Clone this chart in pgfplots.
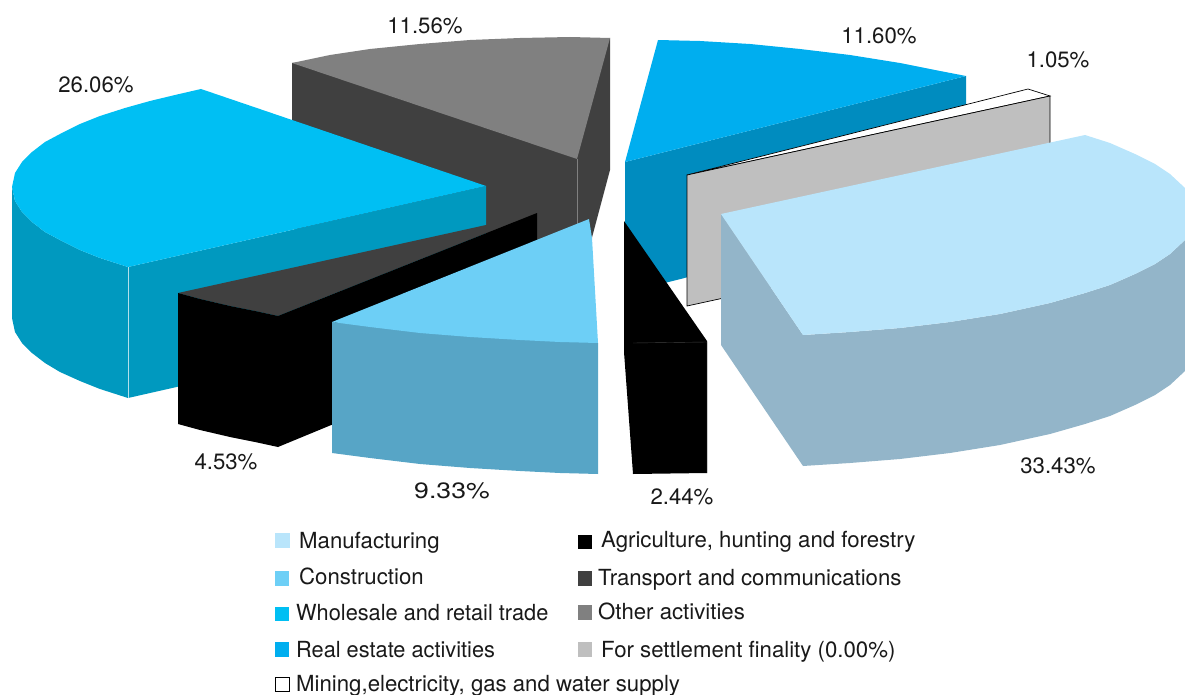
\documentclass[border=0pt]{standalone}
\usepackage{pgfplots}
\pgfplotsset{compat=1.18}
\usepackage{fontspec}
\setmainfont{TeX Gyre Heros}
\definecolor{cMan}{HTML}{B9E5FB}
\definecolor{cManS}{HTML}{93B5C9}
\definecolor{cCon}{HTML}{6DCFF6}
\definecolor{cConS}{HTML}{57A5C6}
\definecolor{cWho}{HTML}{00BFF3}
\definecolor{cWhoS}{HTML}{0099BF}
\definecolor{cRea}{HTML}{00AEEF}
\definecolor{cReaS}{HTML}{008CBF}
\definecolor{cOth}{HTML}{808080}
\definecolor{cTra}{HTML}{404040}
\definecolor{cSet}{HTML}{BFBFBF}
\newcommand{\F}[2]{\addplot[fill=#1,draw=none,mark=none] coordinates {#2} -- cycle;}
\newcommand{\Lab}[3]{\node[anchor=base,inner sep=0pt,text=black!90] at (axis cs:#1,#2) {\fontsize{22.2}{24}\selectfont #3};}
\newcommand{\Leg}[3]{\node[anchor=base west,inner sep=0pt,text=black!90] at (axis cs:#1,#2) {\fontsize{22.2}{24}\selectfont #3};}
\begin{document}
\begin{tikzpicture}
\useasboundingbox (0,0) rectangle (1185pt,695pt);
\begin{axis}[at={(0,0)},anchor=south west,scale only axis,width=1185pt,height=695pt,xmin=0,xmax=1185,ymin=0,ymax=695,y dir=reverse,hide axis,clip=true]
% Transport / Other back faces
\F{cTra}{(292,63)(610,38)(610,170)(590,245)(590,270)(540,300)(300,300)(292,200)}
\F{cOth}{(292,63)(330,55)(370,49)(420,44)(470,40)(520,38)(570,37)(610,38)(577,159)}
\addplot[draw=cOth,line width=0.5pt,mark=none] coordinates {(577,159)(577,290)};
% Wholesale
\F{cWhoS}{(12,187)(12,318)(15,332)(22,343)(32,353)(45,363)(60,372)(80,381)(100,389)(128,398)(128,267)(100,258)(80,250)(60,240)(45,232)(32,222)(22,212)(15,201)}
\F{cWhoS}{(128,267)(486,186)(486,317)(128,398)}
\F{cWho}{(201,89)(175,95)(150,101)(125,108)(100,116)(80,124)(60,134)(45,142)(32,152)(22,162)(15,173)(12,187)(15,201)(22,212)(32,222)(45,232)(60,240)(80,250)(100,258)(128,267)(486,186)}
\addplot[draw=white!70!cWhoS,line width=0.5pt,mark=none] coordinates {(128,267)(128,398)};
% Transport front
\F{cTra}{(178,293)(486,225)(537,213)(278,316)(255,311)(230,306)(200,299)}
\F{black}{(178,293)(200,299)(230,306)(255,311)(278,316)(278,447)(255,442)(230,437)(200,430)(178,424)}
\F{black}{(278,316)(537,213)(537,340)(278,447)}
% Construction
\F{cConS}{(332,322)(332,453)(370,458)(420,464)(470,468)(520,471)(560,473)(598,474)(598,343)}
\F{cCon}{(332,322)(589,219)(592,238)(598,343)(560,342)(520,340)(470,337)(420,333)(370,327)}
% Real estate
\F{cReaS}{(625,162)(966,76)(966,207)(625,293)}
\F{cRea}{(658,40)(700,41)(750,44)(800,49)(850,55)(900,63)(935,70)(966,76)(625,162)}
% Agriculture
\F{black}{(624,221)(707,341)(707,473)(633,474)(624,352)}
\addplot[draw=black!75,line width=0.4pt,mark=none] coordinates {(633,343)(707,342)(707,473)};
% Mining
\addplot[fill=white,draw=black,line width=0.7pt,mark=none] coordinates {(687,175)(1028,89)(1050,96)} -- cycle;
\addplot[fill=cSet,draw=black,line width=0.7pt,mark=none] coordinates {(687,175)(1050,96)(1050,227)(687,306)} -- cycle;
% Manufacturing
\F{cManS}{(721,214)(803,335)(803,466)(721,345)}
\F{cManS}{(803,335)(850,332)(900,328)(950,322)(1000,314)(1050,303)(1085,293)(1110,285)(1135,274)(1155,264)(1170,254)(1185,240)(1196,214)(1196,345)(1185,371)(1170,385)(1155,395)(1135,405)(1110,416)(1085,424)(1050,434)(1000,445)(950,453)(900,459)(850,463)(803,466)}
\F{cMan}{(721,214)(1085,135)(1110,143)(1135,154)(1155,164)(1170,174)(1185,188)(1196,214)(1185,240)(1170,254)(1155,264)(1135,274)(1110,285)(1085,293)(1050,303)(1000,314)(950,322)(900,328)(850,332)(803,335)}
% legend swatches
\F{cMan}{(275,533)(290,533)(290,548)(275,548)}
\F{black}{(578,535)(592,535)(592,549)(578,549)}
\F{cCon}{(275,571)(289,571)(289,586)(275,586)}
\F{cTra}{(578,571)(592,571)(592,586)(578,586)}
\F{cWho}{(275,607)(289,607)(289,621)(275,621)}
\F{cOth}{(578,605)(592,605)(592,620)(578,620)}
\F{cRea}{(275,642)(289,642)(289,657)(275,657)}
\F{cSet}{(578,642)(592,642)(592,657)(578,657)}
\addplot[fill=white,draw=black,line width=0.7pt,mark=none] coordinates {(275,677)(289,677)(289,691)(275,691)} -- cycle;
% labels
\Lab{425}{34}{11.56\%}
\Lab{879}{44}{11.60\%}
\Lab{1058}{68}{1.05\%}
\Lab{96}{93}{26.06\%}
\Lab{1058}{473}{33.43\%}
\Lab{226}{469}{4.53\%}
\node[anchor=base,inner sep=0pt,text=black!90,xscale=1.2] at (axis cs:452,498) {\fontsize{22.2}{24}\selectfont 9.33\%};
\Lab{682}{504}{2.44\%}
\Leg{299}{548}{Manufacturing}
\Leg{601}{547}{Agriculture, hunting and forestry}
\Leg{299}{584}{Construction}
\Leg{598}{585}{Transport and communications}
\node[anchor=base west,inner sep=0pt,text=black!90,xscale=0.98] at (axis cs:296,620) {\fontsize{22.2}{24}\selectfont Wholesale and retail trade};
\Leg{598}{619}{Other activities}
\node[anchor=base west,inner sep=0pt,text=black!90,xscale=0.98] at (axis cs:296,657) {\fontsize{22.2}{24}\selectfont Real estate activities};
\Leg{601}{657}{For settlement finality (0.00\%)}
\Leg{296}{691}{Mining,electricity, gas and water supply}
\end{axis}
\end{tikzpicture}
\end{document}
